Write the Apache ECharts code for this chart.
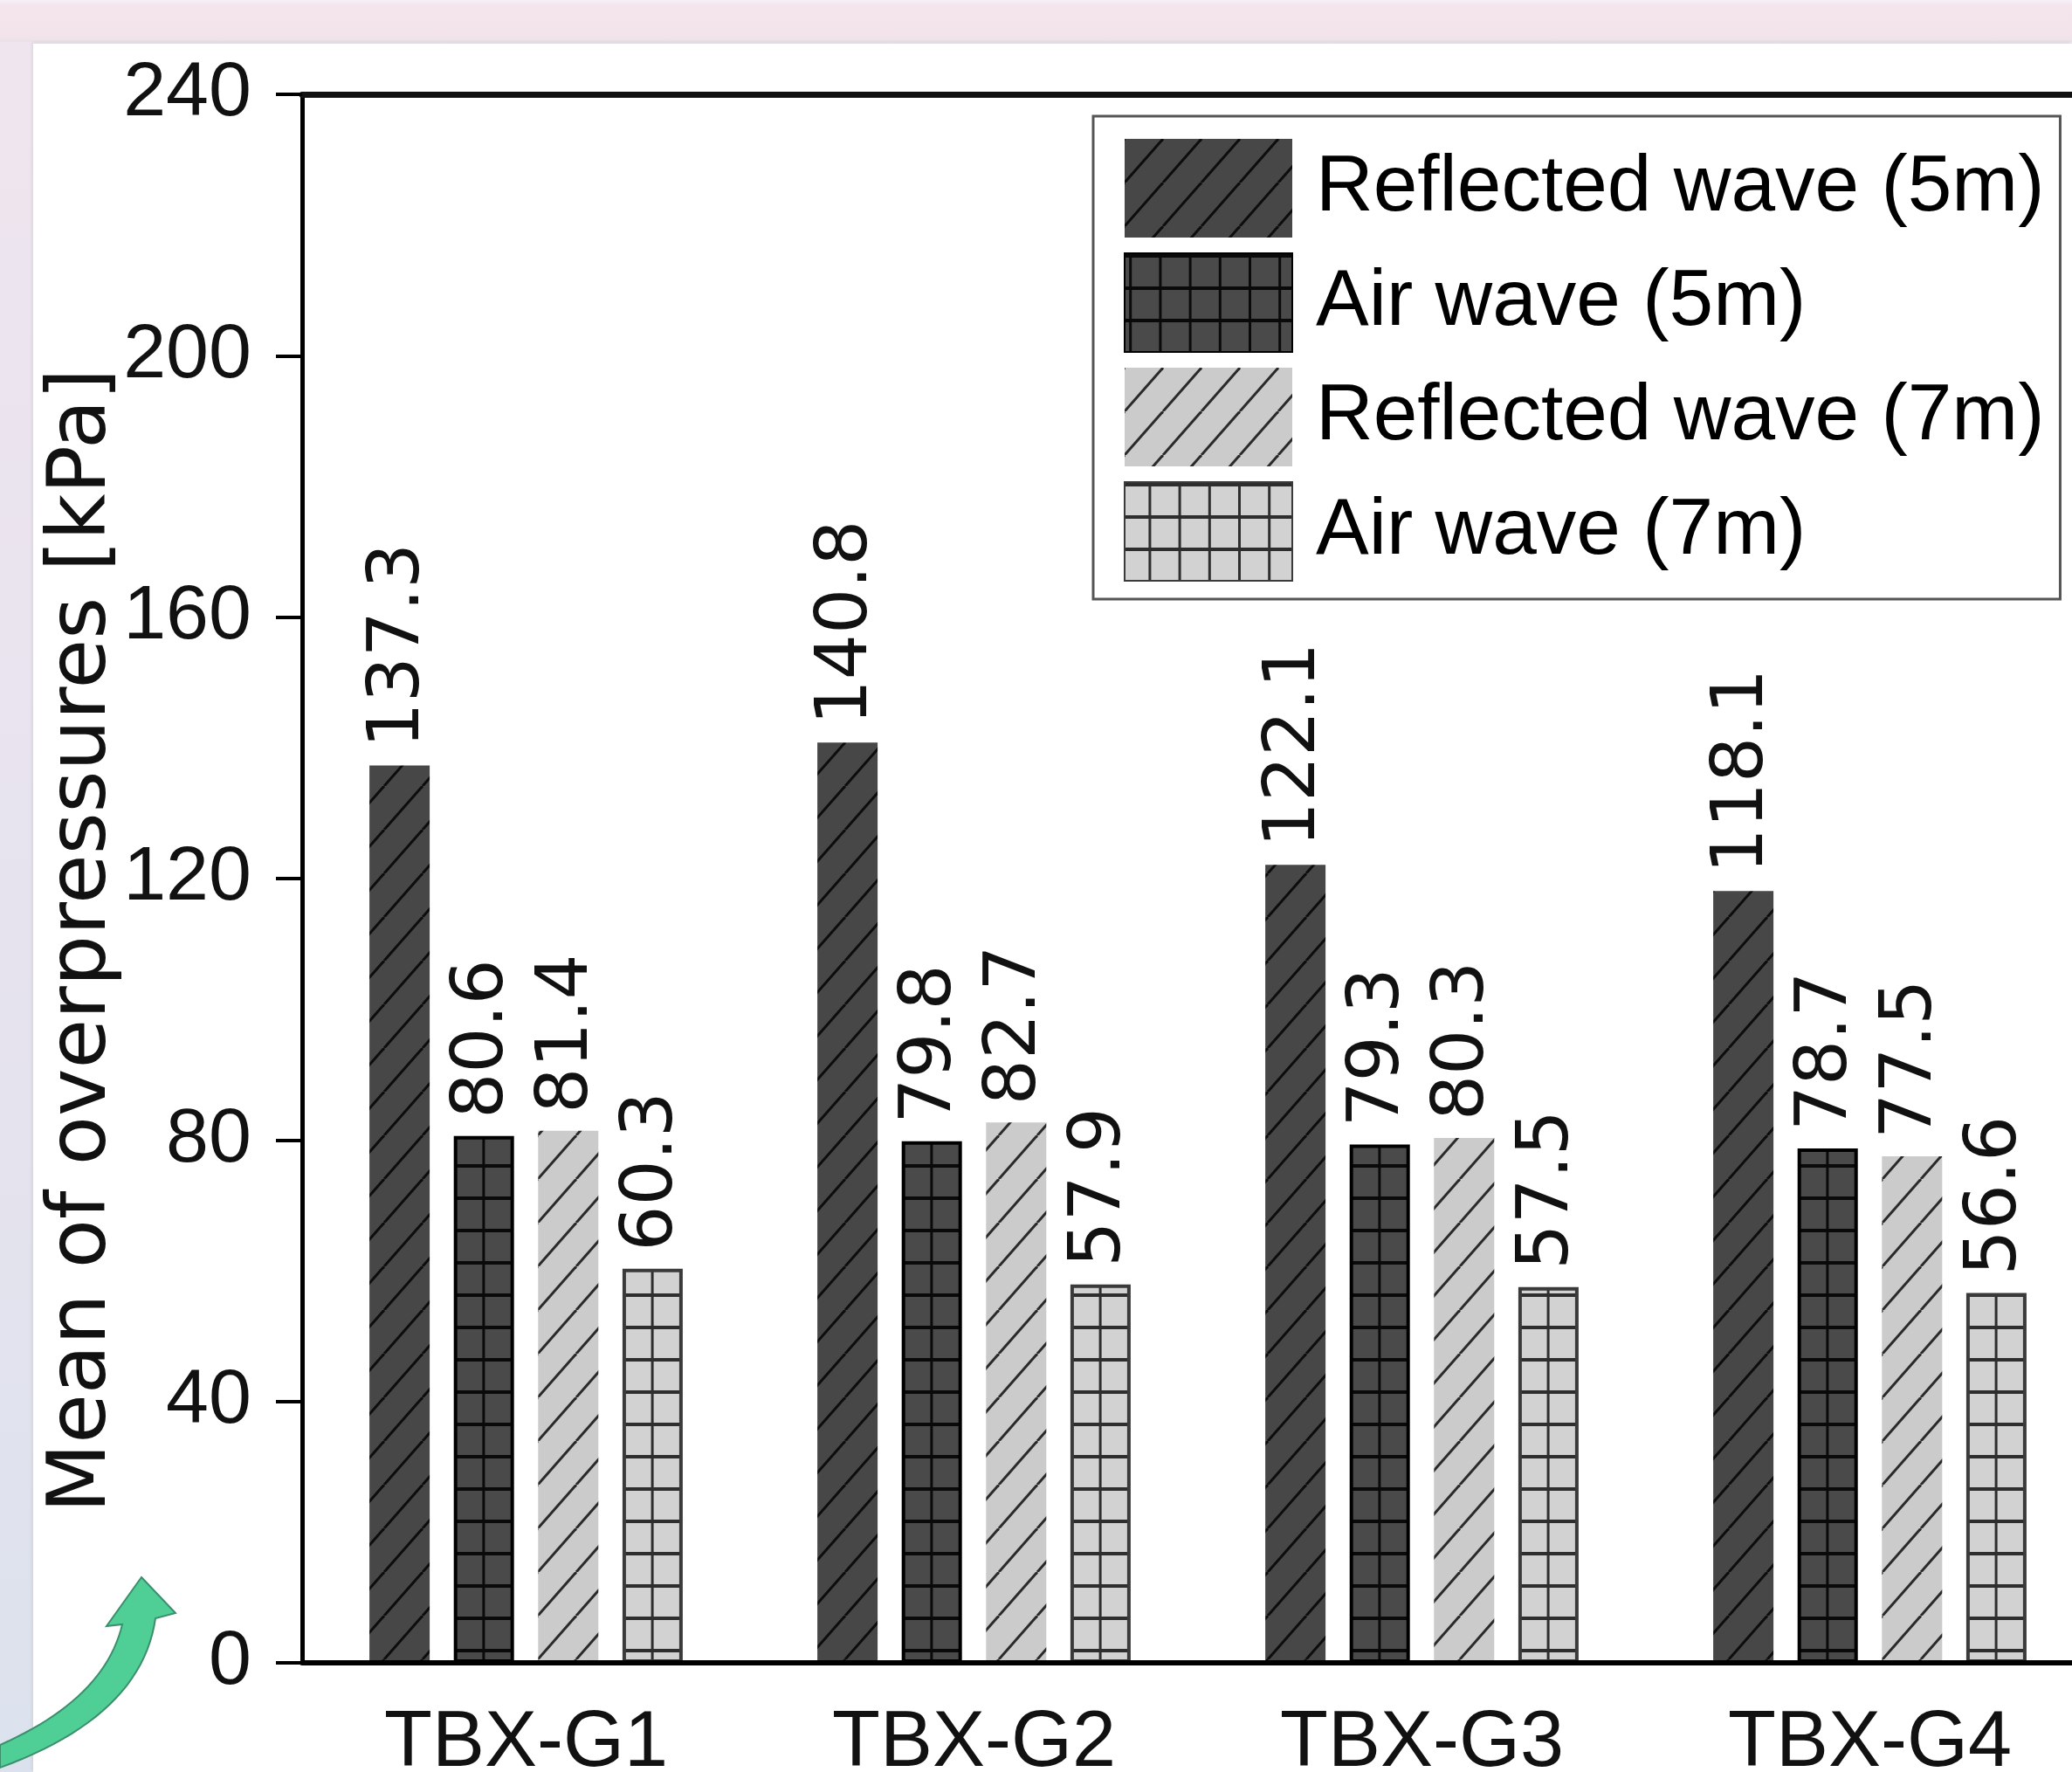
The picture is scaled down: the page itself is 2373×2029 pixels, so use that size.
<!DOCTYPE html>
<html>
<head>
<meta charset="utf-8">
<title>Mean of overpressures</title>
<script src="https://cdn.jsdelivr.net/npm/echarts@6/dist/echarts.min.js"></script>
<style>
    html, body { margin: 0; padding: 0; }
    body { width: 2373px; height: 2029px; position: relative; overflow: hidden;
           background: linear-gradient(180deg, #efe5ee 0%, #e6e3ee 55%, #dce2ed 100%); }
    #topband { position: absolute; left: 0; top: 0; width: 2373px; height: 48px;
               background: linear-gradient(180deg, #f6f1f8 0px, #f3e5eb 6px, #f1e3e9 44px, #e4e3e5 48px); }
    #panel { position: absolute; left: 38px; top: 50px; right: 0; bottom: 0; background: #fff;
             box-shadow: -2px -2px 3px rgba(0, 0, 0, 0.06); }
    #main { position: absolute; left: 0; top: 0; width: 2373px; height: 2029px; }
</style>
</head>
<body>
<div id="topband"></div>
<div id="panel"></div>
<div id="main"></div>
<script>
var categories = ['TBX-G1', 'TBX-G2', 'TBX-G3', 'TBX-G4'];
var seriesNames = ['Reflected wave (5m)', 'Air wave (5m)', 'Reflected wave (7m)', 'Air wave (7m)'];
var reflected5 = [137.3, 140.8, 122.1, 118.1];
var air5 = [80.6, 79.8, 79.3, 78.7];
var reflected7 = [81.4, 82.7, 80.3, 77.5];
var air7 = [60.3, 57.9, 57.5, 56.6];
var yMin = 0;
var yMax = 240;
var yStep = 40;

// layout (px)
var GRID_LEFT = 346;
var GRID_TOP = 108;
var CAT_W = 513;
var BAR_W = 69;
var BAR_GAP = 27.6;
var SANS = '"Liberation Sans", Arial, sans-serif';
var WIDE = '"DejaVu Sans", sans-serif';

function barLeft(i) {
    var groupW = 4 * BAR_W + 3 * BAR_GAP;
    return GRID_LEFT + CAT_W / 2 - groupW / 2 + i * (BAR_W + BAR_GAP);
}

// diagonal hatch "/"
function hatch(bg, line) {
    var w = 44, h = 50;
    var c = document.createElement('canvas');
    c.width = w; c.height = h;
    var ctx = c.getContext('2d');
    ctx.fillStyle = bg;
    ctx.fillRect(0, 0, w, h);
    ctx.strokeStyle = line;
    ctx.lineWidth = 3;
    [-w, 0, w].forEach(function (dx) {
        ctx.beginPath();
        ctx.moveTo(dx, h);
        ctx.lineTo(dx + w, 0);
        ctx.stroke();
    });
    return {image: c, repeat: 'repeat'};
}

// square grid, vertical lines lined up with the bar's left edge
function gridPattern(bg, line, seriesIdx) {
    var cell = CAT_W / 15, h = 37;
    var c = document.createElement('canvas');
    c.width = CAT_W; c.height = h;
    var ctx = c.getContext('2d');
    ctx.fillStyle = bg;
    ctx.fillRect(0, 0, CAT_W, h);
    ctx.fillStyle = line;
    ctx.fillRect(0, 1, CAT_W, 4);
    var off = barLeft(seriesIdx) % cell;
    for (var k = -1; k <= 16; k++) {
        ctx.fillRect(off + k * cell - 1.5, 0, 3, h);
    }
    return {image: c, repeat: 'repeat'};
}

var styles = [
    {color: hatch('#474747', '#0d0d0d')},
    {color: gridPattern('#4a4a4a', '#0a0a0a', 1), borderColor: '#000', borderWidth: 4},
    {color: hatch('#cbcbcb', '#2a2a2a')},
    {color: gridPattern('#d2d2d2', '#2e2e2e', 3), borderColor: '#3a3a3a', borderWidth: 4}
];
var dataSets = [reflected5, air5, reflected7, air7];

// decorative green arrow in the lower left corner
function quad(p0, p1, p2, n) {
    var pts = [];
    for (var i = 0; i <= n; i++) {
        var t = i / n, u = 1 - t;
        pts.push([u * u * p0[0] + 2 * u * t * p1[0] + t * t * p2[0],
                  u * u * p0[1] + 2 * u * t * p1[1] + t * t * p2[1]]);
    }
    return pts;
}
var arrowPts = [[162, 1806], [201, 1847]]
    .concat(quad([178, 1853], [162, 1965], [0, 2024], 24))
    .concat(quad([0, 1998], [120, 1945], [140, 1860], 24))
    .concat([[122, 1862]]);

var chartOption = {
    animation: false,
    textStyle: {fontFamily: SANS},
    grid: {
        left: GRID_LEFT,
        top: GRID_TOP,
        width: CAT_W * categories.length,
        height: 1904 - GRID_TOP,
        outerBoundsMode: 'none',
        containLabel: false
    },
    legend: {
        orient: 'vertical',
        left: 1252,
        top: 133,
        icon: 'rect',
        itemWidth: 192,
        itemHeight: 113,
        itemGap: 17,
        padding: [26, 18, 20, 35],
        borderColor: '#555',
        borderWidth: 3,
        textStyle: {
            fontFamily: SANS,
            fontSize: 91,
            color: '#000',
            padding: [0, 0, 0, 22]
        },
        data: seriesNames
    },
    xAxis: [
        {
            type: 'category',
            data: categories,
            z: 10,
            axisLine: {lineStyle: {color: '#000', width: 6}},
            axisTick: {show: false},
            axisLabel: {
                fontFamily: SANS,
                fontSize: 90,
                color: '#111',
                margin: 48
            }
        },
        {
            type: 'category',
            data: categories,
            position: 'top',
            z: 10,
            axisLine: {lineStyle: {color: '#111', width: 7}},
            axisTick: {show: false},
            axisLabel: {show: false}
        }
    ],
    yAxis: {
        type: 'value',
        min: yMin,
        max: yMax,
        interval: yStep,
        z: 10,
        name: 'Mean of overpressures [kPa]',
        nameLocation: 'middle',
        nameRotate: 90,
        nameGap: 204,
        nameMoveOverlap: false,
        nameTextStyle: {
            fontFamily: WIDE,
            fontSize: 92,
            color: '#111',
            padding: [0, 142, 0, 0]
        },
        axisLine: {show: true, lineStyle: {color: '#000', width: 5}},
        axisTick: {show: true, length: 30, lineStyle: {color: '#000', width: 4}},
        axisLabel: {
            fontFamily: SANS,
            fontSize: 88,
            color: '#111',
            margin: 58
        },
        splitLine: {show: false}
    },
    graphic: [
        {
            type: 'polygon',
            shape: {points: arrowPts},
            style: {fill: '#4fcf96', stroke: '#3b8f6c', lineWidth: 2}
        }
    ],
    series: dataSets.map(function (d, i) {
        return {
            name: seriesNames[i],
            type: 'bar',
            barWidth: BAR_W,
            barGap: (BAR_GAP / BAR_W * 100) + '%',
            data: d,
            itemStyle: styles[i],
            label: {
                show: true,
                position: 'top',
                rotate: 90,
                align: 'left',
                verticalAlign: 'middle',
                distance: 20,
                fontFamily: WIDE,
                fontSize: 82,
                color: '#111',
                formatter: function (p) { return p.value.toFixed(1); }
            }
        };
    })
};

var myChart = echarts.init(document.getElementById('main'), null, {renderer: 'canvas'});
myChart.setOption(chartOption);
</script>
</body>
</html>
